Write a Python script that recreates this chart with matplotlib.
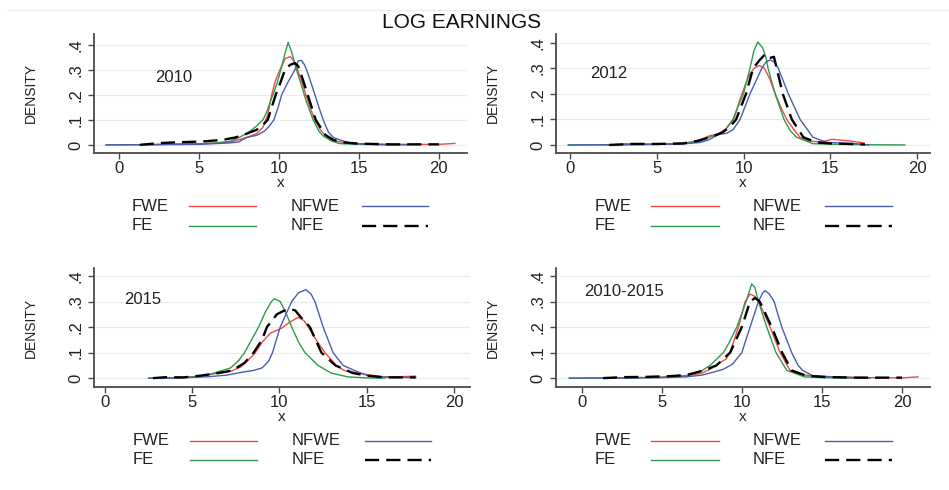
import matplotlib.pyplot as plt
from matplotlib.lines import Line2D

plt.rcParams['font.family'] = ['Liberation Sans', 'DejaVu Sans']

# Kernel density curves of log earnings, read per year and group
# 2010
fwe_2010_x = [1.5, 3, 4, 5, 6, 7, 8, 8.6, 9.0, 9.3, 9.55, 9.8, 10.06, 10.4, 10.7, 10.95, 11.17, 11.45, 11.68, 12.0, 12.25, 12.6, 13.0, 13.5, 14.5, 16, 18, 20, 21]
fwe_2010_y = [0.0, 0.003, 0.004, 0.005, 0.007, 0.012, 0.03, 0.045, 0.07, 0.12, 0.2, 0.26, 0.3, 0.345, 0.353, 0.335, 0.3, 0.25, 0.2, 0.14, 0.1, 0.06, 0.03, 0.015, 0.006, 0.003, 0.002, 0.002, 0.006]
fe_2010_x = [-0.8, 2, 4, 5, 6, 7, 8, 8.6, 9.0, 9.23, 9.5, 9.69, 9.9, 10.12, 10.4, 10.58, 10.8, 11.1, 11.4, 11.68, 12.14, 12.5, 12.77, 13.3, 13.8, 15, 17]
fe_2010_y = [0, 0.001, 0.003, 0.004, 0.007, 0.015, 0.045, 0.075, 0.1, 0.13, 0.18, 0.21, 0.25, 0.3, 0.37, 0.41, 0.37, 0.3, 0.24, 0.18, 0.1, 0.055, 0.035, 0.015, 0.005, 0.002, 0.0]
nfwe_2010_x = [-0.8, 3, 5, 7, 7.5, 8.0, 8.6, 9.1, 9.4, 9.69, 9.95, 10.17, 10.6, 11.0, 11.2, 11.4, 11.6, 11.73, 12.0, 12.25, 12.5, 12.77, 13.1, 13.4, 13.8, 14.6, 16, 18]
nfwe_2010_y = [0, 0.001, 0.002, 0.008, 0.012, 0.03, 0.038, 0.055, 0.075, 0.1, 0.15, 0.2, 0.255, 0.3, 0.335, 0.338, 0.32, 0.3, 0.25, 0.2, 0.15, 0.1, 0.05, 0.03, 0.02, 0.005, 0.002, 0.0]
nfe_2010_x = [1.3, 2.5, 3.5, 4.5, 5.5, 6.5, 7.3, 8.0, 8.6, 9.0, 9.3, 9.8, 10.1, 10.38, 10.7, 11.0, 11.2, 11.45, 11.8, 12.3, 12.6, 12.9, 13.4, 14, 15, 17, 20]
nfe_2010_y = [0.0, 0.007, 0.01, 0.012, 0.015, 0.02, 0.03, 0.045, 0.06, 0.08, 0.1, 0.2, 0.25, 0.3, 0.32, 0.327, 0.315, 0.27, 0.2, 0.1, 0.07, 0.04, 0.02, 0.01, 0.005, 0.002, 0.002]

# 2012
fwe_2012_x = [3.1, 5, 6.5, 7.5, 8.0, 8.6, 9.0, 9.43, 9.9, 10.3, 10.6, 10.91, 11.2, 11.5, 11.82, 12.2, 12.49, 12.9, 13.25, 13.8, 14.5, 15.1, 15.8, 16.5, 16.95]
fwe_2012_y = [0.005, 0.003, 0.005, 0.02, 0.035, 0.045, 0.065, 0.1, 0.2, 0.27, 0.3, 0.311, 0.3, 0.26, 0.2, 0.14, 0.1, 0.06, 0.03, 0.015, 0.012, 0.022, 0.018, 0.012, 0.008]
fe_2012_x = [-0.1, 3, 5, 6.5, 7.5, 8.0, 8.5, 8.85, 9.38, 9.99, 10.37, 10.6, 10.82, 11.1, 11.3, 11.41, 11.82, 12.33, 12.7, 13.06, 14.0, 15, 17, 19.3]
fe_2012_y = [0, 0.001, 0.003, 0.006, 0.015, 0.03, 0.04, 0.05, 0.1, 0.2, 0.3, 0.37, 0.403, 0.38, 0.34, 0.3, 0.2, 0.1, 0.055, 0.03, 0.005, 0.003, 0.001, 0.0]
nfwe_2012_x = [-0.1, 3, 5, 6.5, 7.5, 8.0, 8.5, 9.04, 9.4, 9.8, 10.37, 11.05, 11.3, 11.53, 11.75, 12.0, 12.58, 13.26, 14.0, 14.8, 15.5, 16.5, 17.2]
nfwe_2012_y = [0, 0.001, 0.002, 0.004, 0.01, 0.02, 0.04, 0.046, 0.06, 0.1, 0.2, 0.3, 0.325, 0.333, 0.325, 0.3, 0.2, 0.1, 0.03, 0.01, 0.008, 0.005, 0.0]
nfe_2012_x = [2.25, 3.5, 5, 6.5, 7.3, 7.8, 8.3, 8.8, 9.2, 9.57, 10.14, 10.55, 10.9, 11.24, 11.5, 11.75, 11.91, 12.26, 12.78, 13.45, 14.2, 15, 16, 17]
nfe_2012_y = [0.0, 0.004, 0.004, 0.006, 0.015, 0.025, 0.035, 0.05, 0.07, 0.1, 0.2, 0.3, 0.33, 0.355, 0.34, 0.345, 0.3, 0.2, 0.1, 0.03, 0.01, 0.006, 0.004, 0.002]

# 2015
fwe_2015_x = [3.0, 4.5, 5.5, 6.5, 7.29, 7.8, 8.2, 8.62, 9.0, 9.47, 10.13, 10.6, 11.08, 11.4, 11.65, 12.1, 12.6, 13.26, 13.7, 14.9, 16, 17, 17.8]
fwe_2015_y = [0.0, 0.002, 0.008, 0.02, 0.029, 0.045, 0.07, 0.1, 0.14, 0.176, 0.196, 0.22, 0.238, 0.225, 0.2, 0.15, 0.1, 0.05, 0.03, 0.015, 0.005, 0.006, 0.008]
fe_2015_x = [2.5, 4, 5, 6.0, 6.7, 7.2, 7.67, 8.0, 8.4, 8.8, 9.2, 9.54, 9.72, 10.04, 10.4, 10.7, 11.1, 11.46, 12.2, 12.96, 13.9, 15, 16]
fe_2015_y = [0.0, 0.001, 0.005, 0.015, 0.03, 0.04, 0.07, 0.1, 0.15, 0.2, 0.26, 0.3, 0.311, 0.3, 0.25, 0.2, 0.14, 0.1, 0.05, 0.02, 0.005, 0.001, 0.0]
nfwe_2015_x = [2.5, 4, 5, 6, 7, 8, 8.5, 9.0, 9.375, 9.6, 10.04, 10.7, 11.1, 11.52, 11.8, 12.03, 12.5, 13.07, 13.64, 14.3, 15.05, 16, 17.8]
nfwe_2015_y = [0.0, 0.001, 0.003, 0.006, 0.012, 0.025, 0.03, 0.04, 0.066, 0.1, 0.2, 0.3, 0.335, 0.346, 0.33, 0.3, 0.2, 0.1, 0.05, 0.03, 0.01, 0.004, 0.002]
nfe_2015_x = [2.75, 3.5, 4.5, 5.5, 6.5, 7.3, 8.0, 8.52, 9.0, 9.28, 9.85, 10.2, 10.51, 10.9, 11.2, 11.74, 12.4, 13.2, 14.2, 15, 16, 17.8]
nfe_2015_y = [0.0, 0.004, 0.003, 0.01, 0.02, 0.03, 0.06, 0.1, 0.15, 0.2, 0.25, 0.262, 0.272, 0.265, 0.24, 0.2, 0.1, 0.05, 0.02, 0.01, 0.003, 0.003]

# 2010-2015 pooled
fwe_all_x = [1.5, 3, 5, 6.5, 7.5, 8.0, 8.6, 9.0, 9.25, 9.77, 10.19, 10.5, 10.8, 11.1, 11.4, 11.75, 12.375, 13.0, 13.6, 14.5, 16, 18, 20, 21]
fwe_all_y = [0.0, 0.002, 0.004, 0.008, 0.02, 0.035, 0.06, 0.075, 0.1, 0.2, 0.3, 0.329, 0.32, 0.29, 0.25, 0.2, 0.1, 0.03, 0.015, 0.008, 0.005, 0.002, 0.001, 0.005]
fe_all_x = [-0.8, 3, 5, 6.5, 7.5, 8.0, 8.83, 9.2, 9.67, 10.25, 10.6, 10.8, 11.02, 11.54, 12.12, 12.8, 13.9, 15, 17]
fe_all_y = [0, 0.001, 0.003, 0.01, 0.03, 0.05, 0.1, 0.14, 0.2, 0.3, 0.369, 0.355, 0.3, 0.2, 0.1, 0.03, 0.005, 0.002, 0.0]
nfwe_all_x = [-0.8, 3, 5, 6.5, 7.5, 8.3, 8.83, 9.4, 9.98, 10.5, 11.02, 11.3, 11.44, 11.7, 12.0, 12.48, 13.1, 13.5, 13.8, 14.4, 15.5, 17, 18]
nfwe_all_y = [0, 0.001, 0.002, 0.005, 0.012, 0.025, 0.035, 0.055, 0.1, 0.2, 0.3, 0.335, 0.342, 0.33, 0.3, 0.2, 0.1, 0.05, 0.03, 0.01, 0.005, 0.002, 0.0]
nfe_all_x = [1.3, 2.5, 4, 5.5, 6.5, 7.3, 8.0, 8.4, 9.25, 9.98, 10.5, 10.81, 11.1, 11.4, 11.85, 12.5, 13.1, 14, 15, 17, 20]
nfe_all_y = [0.0, 0.004, 0.005, 0.008, 0.012, 0.025, 0.04, 0.05, 0.1, 0.2, 0.3, 0.314, 0.3, 0.26, 0.2, 0.1, 0.03, 0.01, 0.005, 0.002, 0.002]

ytick_vals = [0, 0.1, 0.2, 0.3, 0.4]
ytick_labels = ['0', '.1', '.2', '.3', '.4']
xtick_vals = [0, 5, 10, 15, 20]

red = '#f04848'
blue = '#4a5cb4'
green = '#2f9a4c'
axis_col = '#4a4a4a'
grid_col = '#e4ecee'
txt_col = '#222222'
nfe_dash = (6, 3)


def panel(ax, curves, label, label_xy, xlim, ylim):
    fwe, fe, nfwe, nfe = curves
    ax.plot(fwe[0], fwe[1], color=red, lw=1.0)
    ax.plot(fe[0], fe[1], color=green, lw=1.0)
    ax.plot(nfwe[0], nfwe[1], color=blue, lw=1.0)
    ax.plot(nfe[0], nfe[1], color='black', lw=1.7, dashes=nfe_dash)

    ax.set_xlim(xlim)
    ax.set_ylim(ylim)
    ax.set_xticks(xtick_vals)
    ax.set_yticks(ytick_vals)
    ax.set_yticklabels(ytick_labels, rotation=90, va='center')
    ax.tick_params(colors=axis_col, labelcolor=txt_col, labelsize=12, length=4, width=1)
    ax.tick_params(axis='x', pad=2)
    ax.grid(axis='y', color=grid_col, lw=0.8)
    ax.set_axisbelow(True)
    for s in ['top', 'right']:
        ax.spines[s].set_visible(False)
    for s in ['left', 'bottom']:
        ax.spines[s].set_color(axis_col)
        ax.spines[s].set_linewidth(1.3)

    ax.set_xlabel('x', fontsize=11, color=txt_col, labelpad=0)
    ax.set_ylabel('DENSITY', fontsize=10, color=txt_col)
    ax.yaxis.set_label_coords(-0.15, 0.5)
    ax.text(label_xy[0], label_xy[1], label, fontsize=12, color=txt_col,
            ha='center', va='center')

    # legend rows under the panel: text on the left, key on the right
    rows = [(-0.45, 'FWE', red, None, 'NFWE', blue, None),
            (-0.61, 'FE', green, None, 'NFE', 'black', nfe_dash)]
    for y, t1, c1, d1, t2, c2, d2 in rows:
        ax.text(0.102, y, t1, transform=ax.transAxes, fontsize=12,
                color=txt_col, va='center', ha='left')
        ax.text(0.526, y, t2, transform=ax.transAxes, fontsize=12,
                color=txt_col, va='center', ha='left')
        for x0, x1, c, d in [(0.255, 0.435, c1, d1), (0.72, 0.897, c2, d2)]:
            ln = Line2D([x0, x1], [y, y], transform=ax.transAxes, color=c,
                        lw=1.7 if d else 1.0, clip_on=False)
            if d:
                ln.set_dashes(d)
            ax.add_line(ln)


fig = plt.figure(figsize=(9.49, 4.9), dpi=100)

ax1 = fig.add_axes([0.099, 0.688, 0.393, 0.243])
ax2 = fig.add_axes([0.586, 0.688, 0.394, 0.243])
ax3 = fig.add_axes([0.099, 0.210, 0.396, 0.243])
ax4 = fig.add_axes([0.586, 0.210, 0.394, 0.243])

panel(ax1, [(fwe_2010_x, fwe_2010_y), (fe_2010_x, fe_2010_y),
            (nfwe_2010_x, nfwe_2010_y), (nfe_2010_x, nfe_2010_y)],
      '2010', (3.4, 0.268), (-1.56, 21.75), (-0.032, 0.444))
panel(ax2, [(fwe_2012_x, fwe_2012_y), (fe_2012_x, fe_2012_y),
            (nfwe_2012_x, nfwe_2012_y), (nfe_2012_x, nfe_2012_y)],
      '2012', (2.25, 0.28), (-0.81, 20.75), (-0.031, 0.435))
panel(ax3, [(fwe_2015_x, fwe_2015_y), (fe_2015_x, fe_2015_y),
            (nfwe_2015_x, nfwe_2015_y), (nfe_2015_x, nfe_2015_y)],
      '2015', (2.16, 0.306), (-0.63, 20.9), (-0.035, 0.431))
panel(ax4, [(fwe_all_x, fwe_all_y), (fe_all_x, fe_all_y),
            (nfwe_all_x, nfwe_all_y), (nfe_all_x, nfe_all_y)],
      '2010-2015', (2.6, 0.34), (-1.63, 21.75), (-0.035, 0.431))

fig.text(0.486, 0.955, 'LOG EARNINGS', ha='center', va='center', fontsize=15, color='#111111')
fig.add_artist(Line2D([0.007, 1.0], [0.979, 0.979], transform=fig.transFigure,
                      color='#e8eeee', lw=0.8))

fig.savefig('out.png', dpi=100)
